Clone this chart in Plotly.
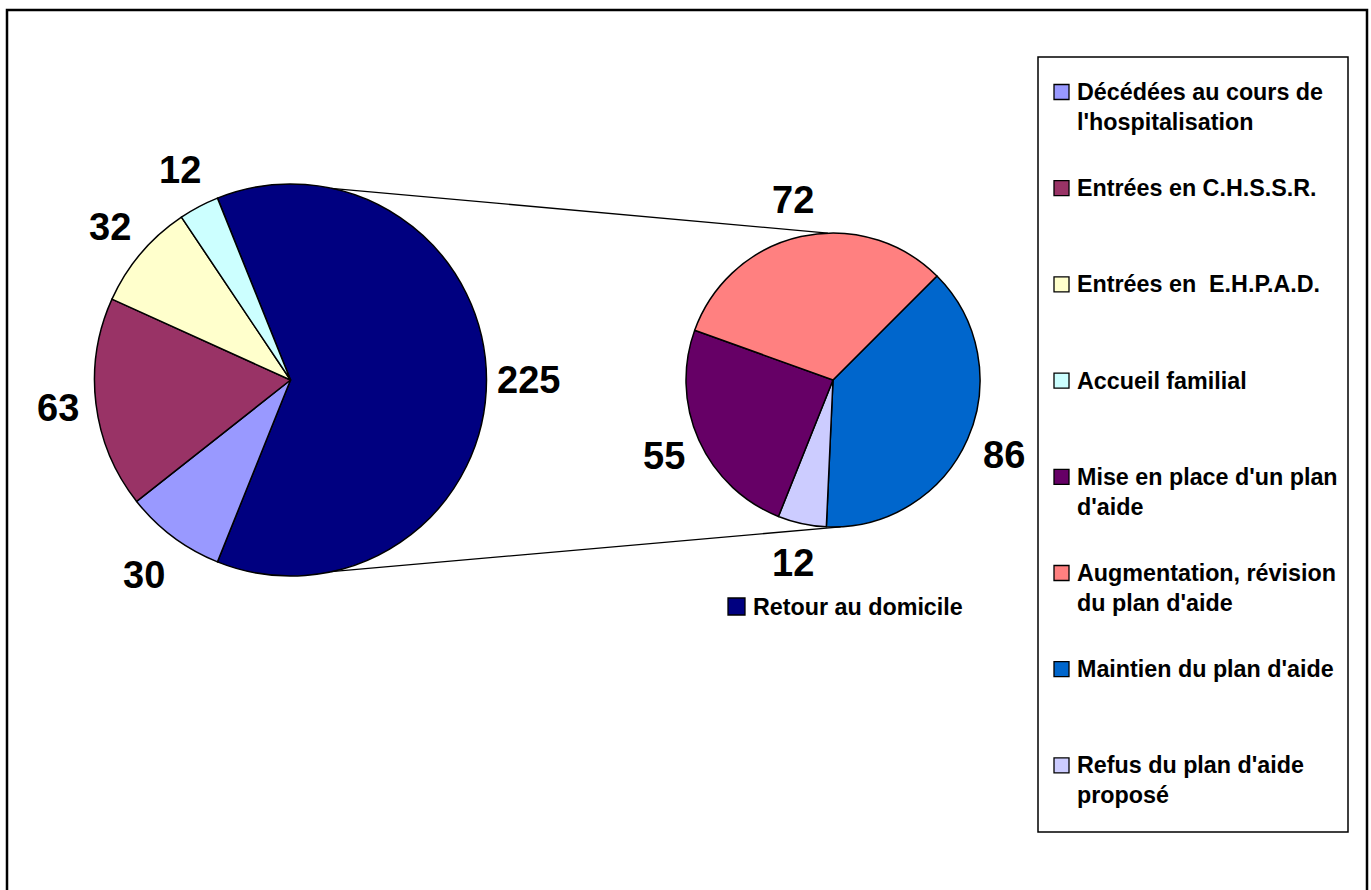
import math
import plotly.graph_objects as go

# ---------------- data ----------------
main_labels = ["Retour au domicile",
               "Décédées au cours de l'hospitalisation",
               "Entrées en C.H.S.S.R.",
               "Entrées en  E.H.P.A.D.",
               "Accueil familial"]
main_values = [225, 30, 63, 32, 12]

sub_labels = ["Maintien du plan d'aide",
              "Refus du plan d'aide proposé",
              "Mise en place d'un plan d'aide",
              "Augmentation, révision du plan d'aide"]
sub_values = [86, 12, 55, 72]

legend_labels = ["Décédées au cours de<br>l'hospitalisation",
                 "Entrées en C.H.S.S.R.",
                 "Entrées en\u00a0 E.H.P.A.D.",
                 "Accueil familial",
                 "Mise en place d'un plan<br>d'aide",
                 "Augmentation, révision<br>du plan d'aide",
                 "Maintien du plan d'aide",
                 "Refus du plan d'aide<br>proposé"]
split_label = "Retour au domicile"

# ---------------- styles ----------------
main_colors = ["#000080", "#9999FF", "#993366", "#FFFFCC", "#CCFFFF"]
sub_colors = ["#0066CC", "#CCCCFF", "#660066", "#FF8080"]
legend_colors = ["#9999FF", "#993366", "#FFFFCC", "#CCFFFF",
                 "#660066", "#FF8080", "#0066CC", "#CCCCFF"]

W, H = 1371, 890
FONT = "Arial, 'Liberation Sans', sans-serif"

MAIN = dict(cx=290.5, cy=380.0, r=196.0)
SUB = dict(cx=833.0, cy=380.0, r=147.0)
main_label_gap = [42, 48, 38, 41, 41]
sub_label_gap = [40, 40, 38, 37]


def px(x):
    return x / W


def py(y):
    return 1 - y / H


def domain(g):
    return dict(x=[px(g["cx"] - g["r"]), px(g["cx"] + g["r"])],
                y=[py(g["cy"] + g["r"]), py(g["cy"] - g["r"])])


def point(g, ang, extra=0.0):
    a = math.radians(ang)
    rr = g["r"] + extra
    return g["cx"] + rr * math.sin(a), g["cy"] - rr * math.cos(a)


# main pie: split slice centred on the horizontal, pointing right
main_rot = 90 - 360 * main_values[0] / sum(main_values) / 2
sub_rot = 45

fig = go.Figure()
fig.add_trace(go.Pie(labels=main_labels, values=main_values, sort=False,
                     direction="clockwise", rotation=main_rot,
                     marker=dict(colors=main_colors, line=dict(color="black", width=1.5)),
                     textinfo="none", showlegend=False, domain=domain(MAIN),
                     hoverinfo="label+value"))
fig.add_trace(go.Pie(labels=sub_labels, values=sub_values, sort=False,
                     direction="clockwise", rotation=sub_rot,
                     marker=dict(colors=sub_colors, line=dict(color="black", width=1.5)),
                     textinfo="none", showlegend=False, domain=domain(SUB),
                     hoverinfo="label+value"))

annotations = []
shapes = []


def value_labels(g, values, rot, gaps):
    total = sum(values)
    cur = rot
    for v, gap in zip(values, gaps):
        span = 360 * v / total
        mid = cur + span / 2
        x, y = point(g, mid, gap)
        annotations.append(dict(x=px(x), y=py(y), xref="paper", yref="paper",
                                text=str(v), showarrow=False,
                                xanchor="center", yanchor="middle",
                                font=dict(family=FONT, size=38, color="black", weight="bold")))
        cur += span


value_labels(MAIN, main_values, main_rot, main_label_gap)
value_labels(SUB, sub_values, sub_rot, sub_label_gap)

# connector lines between the pies
for a_main, a_sub in [(12, -2), (168, 177)]:
    x0, y0 = point(MAIN, a_main)
    x1, y1 = point(SUB, a_sub)
    shapes.append(dict(type="line", xref="paper", yref="paper",
                       x0=px(x0), y0=py(y0), x1=px(x1), y1=py(y1),
                       line=dict(color="black", width=1.3)))

# outer chart border
shapes.append(dict(type="rect", xref="paper", yref="paper",
                   x0=px(7), x1=px(1367), y0=py(905), y1=py(10),
                   line=dict(color="black", width=2.5), fillcolor="rgba(0,0,0,0)"))

# legend box
shapes.append(dict(type="rect", xref="paper", yref="paper",
                   x0=px(1038), x1=px(1348), y0=py(832), y1=py(57),
                   line=dict(color="black", width=1.5), fillcolor="white", layer="below"))

LEG_FONT = dict(family=FONT, size=23.3, color="black", weight="bold")
first_y, step, line_h = 92.0, 96.2, 30.0
for i, (lab, col) in enumerate(zip(legend_labels, legend_colors)):
    c1 = first_y + step * i
    n = lab.count("<br>") + 1
    shapes.append(dict(type="rect", xref="paper", yref="paper",
                       x0=px(1054), x1=px(1069), y0=py(c1 + 7.5), y1=py(c1 - 7.5),
                       line=dict(color="black", width=1.3), fillcolor=col))
    annotations.append(dict(x=px(1075), y=py(c1 + line_h * (n - 1) / 2),
                            xref="paper", yref="paper", text=lab, showarrow=False,
                            xanchor="left", yanchor="middle", align="left",
                            font=LEG_FONT))

# legend entry of the split slice, below the second pie
shapes.append(dict(type="rect", xref="paper", yref="paper",
                   x0=px(728), x1=px(745), y0=py(615), y1=py(598),
                   line=dict(color="black", width=1.3), fillcolor=main_colors[0]))
annotations.append(dict(x=px(751), y=py(607), xref="paper", yref="paper",
                        text=split_label, showarrow=False, xanchor="left",
                        yanchor="middle", font=LEG_FONT))

fig.update_layout(width=W, height=H, margin=dict(l=0, r=0, t=0, b=0),
                  paper_bgcolor="white", plot_bgcolor="white",
                  shapes=shapes, annotations=annotations,
                  font=dict(family=FONT))

fig.write_html("out.html", config={"displayModeBar": False},
               post_script="document.body.style.margin='0';document.body.style.overflow='hidden';")
